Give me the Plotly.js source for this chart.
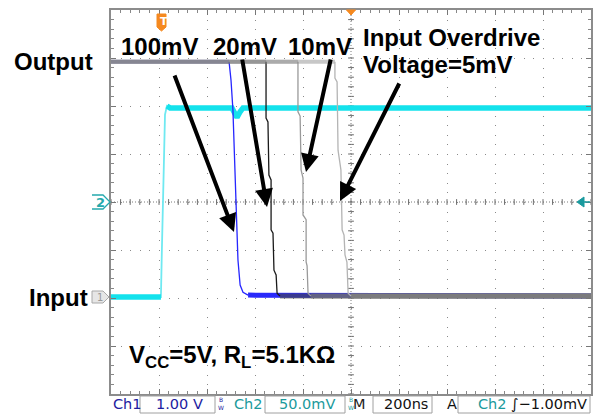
<!DOCTYPE html>
<html><head><meta charset="utf-8">
<script src="https://cdn.plot.ly/plotly-3.0.1.min.js"></script>
<style>html,body{margin:0;padding:0;background:#fff;}#chart{width:594px;height:419px;}</style>
</head><body><div id="chart"></div>
<script>
// ---- data (time in ns from left of screen; Ch1 output in V; Ch2 input in mV) ----
const inputT  = [0, 208, 212, 217, 221, 225, 233, 246, 504, 517, 525, 538, 550, 2000];
const inputMv = [-99, -99, -50, 2, 54, 91, 100, 98, 98, 93, 88, 94, 98, 98];

const out100T = [0, 492, 500, 508, 517, 521, 529, 538, 550, 571, 2000];
const out100V = [4.90, 4.90, 4.52, 3.90, 2.65, 2.02, 0.77, 0.25, 0.10, 0.04, 0.02];
const out20T  = [0, 646, 646, 654, 658, 667, 667, 675, 679, 688, 692, 704, 2000];
const out20V  = [4.90, 4.90, 3.73, 3.65, 2.54, 2.44, 1.40, 1.33, 0.56, 0.46, 0.08, 0.02, 0.02];
const out10T  = [0, 779, 779, 788, 792, 800, 800, 813, 813, 817, 821, 833, 2000];
const out10V  = [4.90, 4.90, 3.86, 3.77, 2.65, 2.48, 1.71, 1.61, 0.73, 0.65, 0.08, 0.02, 0.02];
const out5T   = [0, 933, 933, 942, 946, 958, 963, 971, 975, 983, 988, 1000, 2000];
const out5V   = [4.90, 4.90, 4.56, 4.48, 3.06, 2.65, 1.40, 1.29, 0.88, 0.73, 0.08, 0.02, 0.02];

const overdriveLabels = ['100mV', '20mV', '10mV'];

// scope settings
const ch1VoltsPerDiv = 1.0, ch1GroundDiv = -1.98;
const ch2MvPerDiv = 50.0, ch2GroundDiv = 0;

// ---- helpers ----
const toDiv1 = a => a.map(v => v / ch1VoltsPerDiv + ch1GroundDiv);
const toDiv2 = a => a.map(v => v / ch2MvPerDiv + ch2GroundDiv);
const PL = 111, PT = 10, PW = 480, PH = 384;
const xp = px => (px - PL) / PW;
const yp = py => (PT + PH - py) / PH;

const traces = [];
function addOutput(t, v, edgeColor, highBand, lowBand) {
  const d = toDiv1(v);
  traces.push({x: t.slice(0, 2), y: d.slice(0, 2), mode: 'lines', line: {color: highBand, width: 4}, hoverinfo: 'skip', showlegend: false});
  traces.push({x: t.slice(-2), y: d.slice(-2), mode: 'lines', line: {color: lowBand, width: 5}, hoverinfo: 'skip', showlegend: false});
  traces.push({x: t.slice(1, -1), y: d.slice(1, -1), mode: 'lines', line: {color: edgeColor, width: 1.3}, hoverinfo: 'skip', showlegend: false});
}
// input (Ch2)
const inD = toDiv2(inputMv);
traces.push({x: inputT, y: inD, mode: 'lines', line: {color: '#6fe9f1', width: 1.8}, hoverinfo: 'skip', showlegend: false});
traces.push({x: inputT.slice(0, 2), y: inD.slice(0, 2), mode: 'lines', line: {color: '#14e2ec', width: 5.5}, hoverinfo: 'skip', showlegend: false});
traces.push({x: inputT.slice(6), y: inD.slice(6), mode: 'lines', line: {color: '#14e2ec', width: 5.5}, hoverinfo: 'skip', showlegend: false});
// outputs (Ch1)
addOutput(out100T, out100V, '#2626ff', 'rgba(60,60,200,0.35)', 'rgba(30,30,250,0.95)');
addOutput(out20T, out20V, '#1a1a1a', 'rgba(90,90,90,0.35)', 'rgba(70,70,70,0.6)');
addOutput(out10T, out10V, '#9a9a9a', 'rgba(110,110,110,0.35)', 'rgba(125,125,125,0.6)');
addOutput(out5T, out5V, '#b4b4b4', 'rgba(130,130,130,0.45)', 'rgba(125,125,125,0.92)');

// ---- decorations ----
let tickPath = '';
for (let x = 0; x <= 2000; x += 40) tickPath += `M${x},-0.06L${x},0.06`;
for (let k = -20; k <= 20; k++) { const y = k * 0.2; tickPath += `M988,${y}L1012,${y}`; }

const shapes = [
  {type: 'line', xref: 'paper', yref: 'y', x0: 0, x1: 1, y0: 0, y1: 0, line: {color: '#7a7a7a', width: 1, dash: '1px,2px'}, layer: 'below'},
  {type: 'line', xref: 'x', yref: 'paper', x0: 1000, x1: 1000, y0: 0, y1: 1, line: {color: '#7a7a7a', width: 1, dash: '1px,2px'}, layer: 'below'},
  {type: 'path', xref: 'x', yref: 'y', path: tickPath, line: {color: '#6a6a6a', width: 1}, layer: 'below'},
  // trigger position marker T
  {type: 'path', xref: 'paper', yref: 'paper', path: `M${xp(157)},${yp(14)}L${xp(166)},${yp(14)}L${xp(166)},${yp(27)}L${xp(161.5)},${yp(31)}L${xp(157)},${yp(27)}Z`, fillcolor: '#f5891f', line: {color: '#f5891f', width: 1}},
  // center orange triangle
  {type: 'path', xref: 'paper', yref: 'paper', path: `M${xp(346.5)},${yp(10)}L${xp(355.5)},${yp(10)}L${xp(351)},${yp(15)}Z`, fillcolor: '#f5891f', line: {color: '#f5891f', width: 1}},
  // Ch2 ground marker "2"
  {type: 'path', xref: 'paper', yref: 'paper', path: `M${xp(92)},${yp(195)}L${xp(103)},${yp(195)}L${xp(110)},${yp(202)}L${xp(103)},${yp(209)}L${xp(92)},${yp(209)}`, line: {color: '#25a9ad', width: 1.3}},
  // Ch1 ground marker "1"
  {type: 'path', xref: 'paper', yref: 'paper', path: `M${xp(92)},${yp(291)}L${xp(103)},${yp(291)}L${xp(109)},${yp(297)}L${xp(103)},${yp(303)}L${xp(92)},${yp(303)}Z`, fillcolor: '#e6e6e6', line: {color: '#a8a8a8', width: 1}},
  // trigger level marker (right)
  {type: 'path', xref: 'paper', yref: 'paper', path: `M${xp(577)},${yp(202)}L${xp(584)},${yp(197)}L${xp(584)},${yp(207)}Z`, fillcolor: '#199a9e', line: {color: '#199a9e', width: 1}},
  {type: 'line', xref: 'paper', yref: 'paper', x0: xp(583), x1: xp(590), y0: yp(202), y1: yp(202), line: {color: '#199a9e', width: 1.5}},
  // readout boxes
  {type: 'rect', xref: 'paper', yref: 'paper', x0: xp(140), x1: xp(215), y0: yp(396), y1: yp(413), line: {color: '#a0a0a0', width: 1}},
  {type: 'rect', xref: 'paper', yref: 'paper', x0: xp(265), x1: xp(345), y0: yp(396), y1: yp(413), line: {color: '#a0a0a0', width: 1}},
  {type: 'rect', xref: 'paper', yref: 'paper', x0: xp(373), x1: xp(432), y0: yp(396), y1: yp(413), line: {color: '#a0a0a0', width: 1}},
  {type: 'rect', xref: 'paper', yref: 'paper', x0: xp(458), x1: xp(590), y0: yp(396), y1: yp(413), line: {color: '#a0a0a0', width: 1}}
];

const bigFont = {family: 'Liberation Sans, Arial, sans-serif', size: 24, color: '#000'};
const lbl = (text, px, py, font) => ({text, x: xp(px), y: yp(py), xref: 'paper', yref: 'paper', xanchor: 'left', yanchor: 'middle', showarrow: false, font: font || bigFont});
const scopeFont = (c) => ({family: 'DejaVu Sans, sans-serif', size: 14.5, color: c});

const annotations = [
  lbl('<b>' + overdriveLabels[0] + '</b>', 119, 46),
  lbl('<b>' + overdriveLabels[1] + '</b>', 211, 46),
  lbl('<b>' + overdriveLabels[2] + '</b>', 286, 46),
  lbl('<b>Input Overdrive</b>', 361, 37),
  lbl('<b>Voltage=5mV</b>', 361, 65),
  lbl('<b>Output</b>', 12, 62),
  lbl('<b>Input</b>', 27, 297),
  lbl('<b>V<sub>CC</sub>=5V, R<sub>L</sub>=5.1KΩ</b>', 127, 356),
  lbl('<b>T</b>', 158.3, 21, {family: 'DejaVu Sans, sans-serif', size: 11, color: '#fff'}),
  lbl('<b>2</b>', 94, 202, {family: 'DejaVu Sans, sans-serif', size: 13, color: '#25a9ad'}),
  lbl('1', 95, 297, {family: 'DejaVu Sans, sans-serif', size: 10, color: '#999'}),
  lbl('Ch1', 111, 404, scopeFont('#1c20a0')),
  lbl('1.00 V', 154, 404, scopeFont('#1c20a0')),
  lbl('B<br>W', 216, 403, {family: 'DejaVu Sans, sans-serif', size: 6, color: '#1c20a0'}),
  lbl('Ch2', 232, 404, scopeFont('#1a9a9c')),
  lbl('50.0mV', 277, 404, scopeFont('#1a9a9c')),
  lbl('B<br>W', 346, 403, {family: 'DejaVu Sans, sans-serif', size: 6, color: '#1a9a9c'}),
  lbl('M', 351, 404, scopeFont('#222')),
  lbl('200ns', 382, 404, scopeFont('#111')),
  lbl('A', 445, 404, scopeFont('#111')),
  lbl('Ch2', 476, 404, scopeFont('#1a9a9c')),
  lbl('∫−1.00mV', 509, 404, scopeFont('#111'))
];

const arrows = [
  {tip: [234, 232], tail: [174, 74]},
  {tip: [267, 207], tail: [242, 58]},
  {tip: [306, 172], tail: [331, 58]},
  {tip: [340, 201], tail: [400, 82]}
];
arrows.forEach(a => annotations.push({
  x: xp(a.tip[0]), y: yp(a.tip[1]), xref: 'paper', yref: 'paper', text: '',
  showarrow: true, ax: a.tail[0] - a.tip[0], ay: a.tail[1] - a.tip[1],
  arrowhead: 2, arrowsize: 0.9, arrowwidth: 4, arrowcolor: '#000', standoff: 0
}));

const layout = {
  width: 594, height: 419,
  margin: {l: PL, r: 594 - PL - PW, t: PT, b: 419 - PT - PH, pad: 0},
  paper_bgcolor: '#fff', plot_bgcolor: '#fff',
  showlegend: false,
  xaxis: {range: [0, 2000], tick0: 0, dtick: 200, showgrid: true, gridcolor: '#8a8a8a', gridwidth: 1, griddash: '1px,8.6px',
    zeroline: false, showline: true, linecolor: '#8c8c8c', linewidth: 2, mirror: 'ticks', ticks: 'inside', ticklen: 5, tickcolor: '#777',
    showticklabels: false, minor: {dtick: 40, ticks: 'inside', ticklen: 3, tickcolor: '#888', showgrid: false}, fixedrange: true},
  yaxis: {range: [-4, 4], tick0: 0, dtick: 1, showgrid: true, gridcolor: '#8a8a8a', gridwidth: 1, griddash: '1px,8.6px',
    zeroline: false, showline: true, linecolor: '#8c8c8c', linewidth: 2, mirror: 'ticks', ticks: 'inside', ticklen: 5, tickcolor: '#777',
    showticklabels: false, minor: {dtick: 0.2, ticks: 'inside', ticklen: 3, tickcolor: '#888', showgrid: false}, fixedrange: true},
  shapes, annotations
};

Plotly.newPlot('chart', traces, layout, {staticPlot: true, displayModeBar: false});
</script></body></html>
